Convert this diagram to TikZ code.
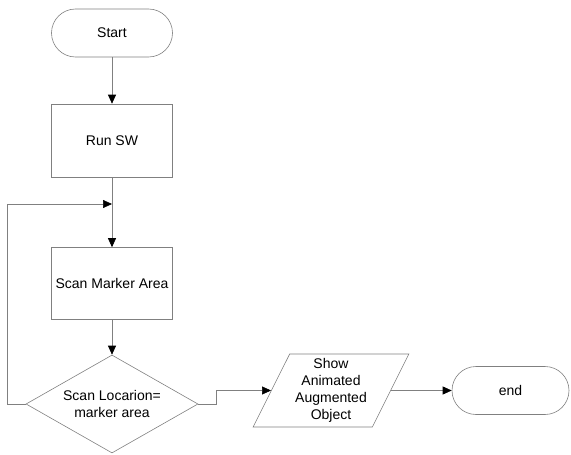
\documentclass[tikz,border=0pt]{standalone}
\usepackage{fontspec}
\setmainfont{Liberation Sans}
\usetikzlibrary{arrows.meta,shapes.geometric}

\begin{document}
\begin{tikzpicture}[
                x=1pt, y=-1pt,
                every node/.style={
                  draw=black!50,
                  line width=0.6pt,
                  inner sep=0pt,
                  align=center,
                  font=\fontsize{14}{17}\selectfont,
                },
                terminal/.style={
                  rectangle,
                  rounded corners=24pt,
                  minimum width=121pt,
                  minimum height=48pt,
                },
                process/.style={
                  rectangle,
                  minimum width=121pt,
                  minimum height=72pt,
                },
                decision/.style={
                  diamond,
                  shape aspect=1.75,
                  minimum width=172pt,
                  minimum height=98pt,
                },
                io/.style={
                  trapezium,
                  trapezium left angle=63.7,
                  trapezium right angle=116.3,
                  trapezium stretches=true,
                  minimum width=156pt,
                  minimum height=73pt,
                },
                draw=black!50,
                line width=0.6pt,
                >={Triangle[length=9pt,width=8pt,color=black]},
              ]
              \useasboundingbox (0,0) rectangle (571,455);
              \node[terminal] at (112,33) (start) {Start} ;
              \node[process, minimum height=73pt] at (112,140.5) (run) {Run SW} ;
              \node[process] at (112,283.5) (scan) {Scan Marker Area} ;
              \node[decision] at (112,404) (check) {Scan Locarion=\\marker area} ;
              \node[io] at (331,390.5) (show) {Show\\Animated\\Augmented\\Object} ;
              \node[terminal, minimum width=117pt] at (510.5,390.5) (end) {end} ;
              \coordinate (loop) at (112,204) ;
              \draw[->] (start)--(run) ;
              \draw[->] (run)--(scan) ;
              \draw[->] (scan)--(check) ;
              \draw[->] (check.west) -- ++(-18,0) |- (loop) ;
              \draw[->] (check.east) -- ++(18,0) |- (show.west) ;
              \draw[->] (show.east)--(end) ;
              \end{tikzpicture}
\end{document}
